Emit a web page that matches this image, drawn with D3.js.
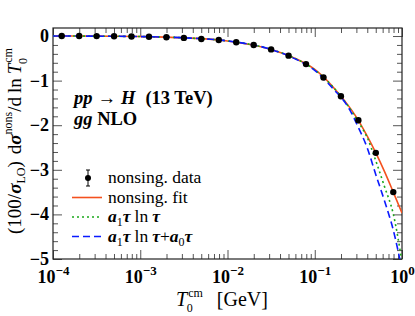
<!DOCTYPE html>
<html>
<head>
<meta charset="utf-8">
<script src="https://cdn.jsdelivr.net/npm/d3@7"></script>
<style>
  body { margin: 0; background: #fff; }
  svg { display: block; font-family: "Liberation Serif", "DejaVu Serif", serif; }
  .axis path { display: none; }
  .axis line { stroke: #555; stroke-width: 1; }
</style>
</head>
<body>
<svg id="chart" width="415" height="316"></svg>
<script>
// --- Data ---
// data points at log10(tau) = -3.9 ... -0.1
const dataLogTau = [-3.9, -3.7, -3.5, -3.3, -3.1, -2.9, -2.7, -2.5, -2.3, -2.1,
                    -1.9, -1.7, -1.5, -1.3, -1.1, -0.9, -0.7, -0.5, -0.3, -0.1];
const dataVals   = [0.0, 0.0, -0.002, -0.005, -0.01, -0.016, -0.028, -0.042, -0.067, -0.09,
                    -0.14, -0.20, -0.30, -0.44, -0.63, -0.93, -1.35, -1.89, -2.62, -3.50];

// curve sample positions (log10 tau)
const curveLogTau = [-4, -3.5, -3, -2.5, -2, -1.5, -1.25, -1, -0.8, -0.6, -0.5, -0.4, -0.3, -0.2, -0.1, 0];
const fitVals     = [0.0, -0.003, -0.012, -0.04, -0.11, -0.30, -0.48, -0.75, -1.12, -1.60, -1.89, -2.24, -2.62, -3.04, -3.50, -3.97];
const a1Vals      = [0.0, -0.003, -0.012, -0.04, -0.11, -0.30, -0.48, -0.76, -1.12, -1.62, -1.93, -2.27, -2.80, -3.38, -3.99, -5.06];
const a1a0Vals    = [0.0, -0.003, -0.012, -0.04, -0.11, -0.30, -0.49, -0.77, -1.16, -1.65, -2.05, -2.50, -3.11, -3.70, -4.35, -5.24];

const xMajor = [1e-4, 1e-3, 1e-2, 1e-1, 1];
const xMajorExp = ["−4", "−3", "−2", "−1", "0"];
const yMajor = [0, -1, -2, -3, -4, -5];
const yMajorLabels = ["0", "−1", "−2", "−3", "−4", "−5"];

const legendItems = ["nonsing. data", "nonsing. fit", "a1tau", "a1tau+a0"];

// --- Layout ---
const svg = d3.select("#chart"),
  margin = { top: 28, right: 13, bottom: 57, left: 53 },
  width = +svg.attr("width") - margin.left - margin.right,
  height = +svg.attr("height") - margin.top - margin.bottom;

const g = svg.append("g").attr("transform", `translate(${margin.left},${margin.top})`);

const x = d3.scaleLog().domain([1e-4, 1]).range([0, width]);
const y = d3.scaleLinear().domain([-5, 0.18]).range([height, 0]);

// minor ticks
const xMinor = [];
[1e-4, 1e-3, 1e-2, 1e-1].forEach(d => { for (let k = 2; k <= 9; k++) xMinor.push(d * k); });
const yMinor = d3.range(-4.8, 0.18, 0.2).filter(v => Math.abs(v - Math.round(v)) > 0.01);

// --- Axes (inward ticks, mirrored) ---
function addAxis(axis, transform) {
  return g.append("g").attr("class", "axis").attr("transform", transform).call(axis);
}
addAxis(d3.axisBottom(x).tickValues(xMinor).tickSize(-5).tickFormat(""), `translate(0,${height})`);
addAxis(d3.axisTop(x).tickValues(xMinor).tickSize(-5).tickFormat(""), "translate(0,0)");
addAxis(d3.axisTop(x).tickValues(xMajor).tickSize(-9).tickFormat(""), "translate(0,0)");
const xAx = addAxis(d3.axisBottom(x).tickValues(xMajor).tickSize(-9), `translate(0,${height})`);
xAx.selectAll("text").each(function (d, i) {
  const t = d3.select(this).text(null).attr("y", 24).attr("dy", null)
    .attr("font-size", 18).attr("fill", "#000")
    .attr("font-family", "Liberation Serif").attr("font-weight", "bold");
  t.append("tspan").text("10");
  t.append("tspan").attr("dy", -8).attr("font-size", 13).text(xMajorExp[i]);
});

addAxis(d3.axisLeft(y).tickValues(yMinor).tickSize(-5).tickFormat(""), "translate(0,0)");
addAxis(d3.axisRight(y).tickValues(yMinor).tickSize(-5).tickFormat(""), `translate(${width},0)`);
addAxis(d3.axisRight(y).tickValues(yMajor).tickSize(-9).tickFormat(""), `translate(${width},0)`);
const yAx = addAxis(d3.axisLeft(y).tickValues(yMajor).tickSize(-9).tickPadding(4)
  .tickFormat((d, i) => yMajorLabels[i]), "translate(0,0)");
yAx.selectAll("text").attr("font-size", 18).attr("dy", "0.3em").attr("fill", "#000")
  .attr("font-family", "Liberation Serif").attr("font-weight", "bold");

// frame
g.append("rect").attr("width", width).attr("height", height)
  .attr("fill", "none").attr("stroke", "#222").attr("stroke-width", 1.2);

// --- Curves ---
g.append("clipPath").attr("id", "clip").append("rect").attr("width", width).attr("height", height);
const line = d3.line().x(d => x(Math.pow(10, d[0]))).y(d => y(d[1])).curve(d3.curveMonotoneX);
const plot = g.append("g").attr("clip-path", "url(#clip)");

const curves = [
  { vals: fitVals, color: "#f4511e", dash: null },
  { vals: a1Vals, color: "#1aa81a", dash: "2,3" },
  { vals: a1a0Vals, color: "#0a1aff", dash: "7,4" }
];
curves.forEach(c => {
  plot.append("path")
    .datum(curveLogTau.map((l, i) => [l, c.vals[i]]))
    .attr("d", line)
    .attr("fill", "none")
    .attr("stroke", c.color)
    .attr("stroke-width", 1.6)
    .attr("stroke-dasharray", c.dash);
});

// data points
plot.selectAll("circle.pt")
  .data(dataLogTau.map((l, i) => [l, dataVals[i]]))
  .join("circle")
  .attr("class", "pt")
  .attr("cx", d => x(Math.pow(10, d[0])))
  .attr("cy", d => y(d[1]))
  .attr("r", 3.2)
  .attr("fill", "#000");

// --- Annotation text ---
const ann = g.append("g").attr("font-size", 18.5).attr("font-weight", "bold").attr("fill", "#000");
const t1 = ann.append("text").attr("x", 21).attr("y", 76);
t1.append("tspan").attr("font-style", "italic").text("pp");
t1.append("tspan").attr("dx", 5).text("→");
t1.append("tspan").attr("dx", 5).attr("font-style", "italic").text("H");
t1.append("tspan").attr("dx", 10).text("(13 TeV)");
const t2 = ann.append("text").attr("x", 21).attr("y", 97);
t2.append("tspan").attr("font-style", "italic").text("gg");
t2.append("tspan").text(" NLO");

// --- Legend ---
const leg = g.append("g").attr("transform", "translate(19,150)").attr("font-size", 17.5);
const rowH = 19.5;
leg.selectAll("g.row").data(legendItems).join("g")
  .attr("class", "row")
  .attr("transform", (d, i) => `translate(0,${i * rowH})`)
  .each(function (d, i) {
    const r = d3.select(this);
    if (i === 0) {
      r.append("line").attr("x1", 16).attr("x2", 16).attr("y1", -8).attr("y2", 8).attr("stroke", "#000");
      r.append("line").attr("x1", 14).attr("x2", 18).attr("y1", -8).attr("y2", -8).attr("stroke", "#000");
      r.append("line").attr("x1", 14).attr("x2", 18).attr("y1", 8).attr("y2", 8).attr("stroke", "#000");
      r.append("circle").attr("cx", 16).attr("cy", 0).attr("r", 3).attr("fill", "#000");
    } else {
      const c = curves[i - 1];
      r.append("line").attr("x1", 0).attr("x2", 30).attr("y1", 0).attr("y2", 0)
        .attr("stroke", c.color).attr("stroke-width", 1.6).attr("stroke-dasharray", c.dash);
    }
    const t = r.append("text").attr("x", 36).attr("y", 5);
    if (i < 2) {
      t.text(d);
    } else {
      t.append("tspan").attr("font-style", "italic").attr("font-weight", "bold").text("a");
      t.append("tspan").attr("font-size", 12).attr("dy", 4).text("1");
      t.append("tspan").attr("font-style", "italic").attr("font-weight", "bold").attr("dy", -4).text("τ");
      t.append("tspan").attr("dx", 4).text("ln");
      t.append("tspan").attr("dx", 4).attr("font-style", "italic").attr("font-weight", "bold").text("τ");
      if (i === 3) {
        t.append("tspan").text("+");
        t.append("tspan").attr("font-style", "italic").attr("font-weight", "bold").text("a");
        t.append("tspan").attr("font-size", 12).attr("dy", 4).text("0");
        t.append("tspan").attr("font-style", "italic").attr("font-weight", "bold").attr("dy", -4).text("τ");
      }
    }
  });

// --- Axis titles ---
const xt = svg.append("text").attr("x", 176).attr("y", 306).attr("font-size", 20);
xt.append("tspan").attr("font-style", "italic").text("T");
xt.append("tspan").attr("font-size", 12).attr("dx", 1).attr("dy", -9).text("cm");
xt.append("tspan").attr("font-size", 12).attr("dx", -16).attr("dy", 15).text("0");
xt.append("tspan").attr("dx", 24).attr("dy", -6).text("[GeV]");

const yt = svg.append("text").attr("transform", "translate(21,141) rotate(-90)")
  .attr("text-anchor", "middle").attr("font-size", 19);
yt.append("tspan").text("(100/");
yt.append("tspan").attr("font-style", "italic").attr("font-weight", "bold").text("σ");
yt.append("tspan").attr("font-size", 12).attr("dy", 4).text("LO");
yt.append("tspan").attr("dy", -4).text(")");
yt.append("tspan").attr("dx", 7).text("d");
yt.append("tspan").attr("font-style", "italic").attr("font-weight", "bold").text("σ");
yt.append("tspan").attr("font-size", 12).attr("dy", -9).text("nons");
yt.append("tspan").attr("dy", 9).text("/d");
yt.append("tspan").attr("dx", 4).text("ln");
yt.append("tspan").attr("dx", 4).attr("font-style", "italic").text("T");
yt.append("tspan").attr("font-size", 12).attr("dx", 1).attr("dy", -9).text("cm");
yt.append("tspan").attr("font-size", 12).attr("dx", -16).attr("dy", 15).text("0");
</script>
</body>
</html>
